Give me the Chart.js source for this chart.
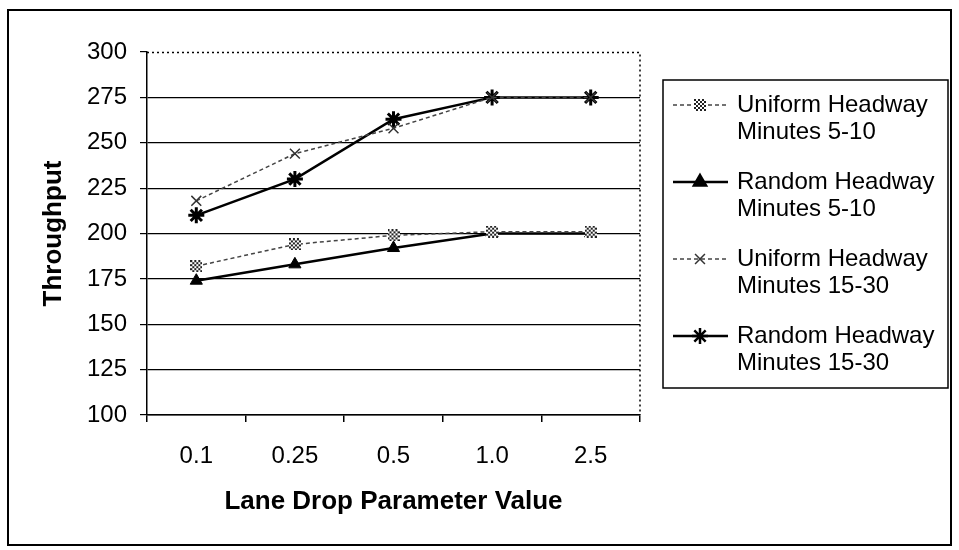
<!DOCTYPE html>
<html>
<head>
<meta charset="utf-8">
<script src="https://cdn.jsdelivr.net/npm/chart.js@4.4.1/dist/chart.umd.min.js"></script>
<style>
  html, body { margin: 0; padding: 0; background: #fff; }
  canvas { display: block; }
</style>
</head>
<body>
<canvas id="myChart" width="959" height="550"></canvas>
<script>
// data
const categories = ["0.1", "0.25", "0.5", "1.0", "2.5"];
const uniform5to10 = [182, 194, 199, 201, 201];
const random5to10 = [174, 183, 192, 200, 200];
const uniform15to30 = [218, 244, 258, 275, 275];
const random15to30 = [210, 230, 263, 275, 275];
const seriesNames = [
  ["Uniform Headway", "Minutes 5-10"],
  ["Random Headway", "Minutes 5-10"],
  ["Uniform Headway", "Minutes 15-30"],
  ["Random Headway", "Minutes 15-30"]
];
const yMin = 100, yMax = 300, yStep = 25;

const FONT = "'Liberation Sans', Arial, sans-serif";

/* checkered marker for the first series */
function checker() {
  const c = document.createElement("canvas");
  c.width = 12; c.height = 12;
  const g = c.getContext("2d");
  for (let i = 0; i < 6; i++) {
    for (let j = 0; j < 6; j++) {
      g.fillStyle = (i + j) % 2 ? "#fff" : "#222";
      g.fillRect(i * 2, j * 2, 2, 2);
    }
  }
  return c;
}
const checkerImg = checker();

/* outer frame, dotted plot border and the boxed legend */
const framePlugin = {
  id: "frame",
  beforeDraw(c) {
    const ctx = c.ctx;
    ctx.save();
    ctx.fillStyle = "#fff";
    ctx.fillRect(0, 0, c.width, c.height);
    ctx.restore();
  },
  afterDraw(c) {
    const ctx = c.ctx;
    const a = c.chartArea;
    ctx.save();
    // outer border
    ctx.strokeStyle = "#000";
    ctx.lineWidth = 2;
    ctx.strokeRect(8, 10, 943, 535);
    // dotted top & right of plot
    ctx.lineWidth = 1.5;
    ctx.setLineDash([2, 3]);
    ctx.beginPath();
    ctx.moveTo(a.left, a.top + 0.5);
    ctx.lineTo(a.right, a.top + 0.5);
    ctx.lineTo(a.right, a.bottom);
    ctx.stroke();
    ctx.setLineDash([]);

    // legend box
    const lx = 663, ly = 80, lw = 285, lh = 308;
    ctx.lineWidth = 1.5;
    ctx.strokeRect(lx, ly, lw, lh);
    ctx.font = "24px " + FONT;
    ctx.fillStyle = "#000";
    ctx.textBaseline = "middle";
    ctx.textAlign = "left";
    c.data.datasets.forEach((ds, i) => {
      const y = 105 + i * 77;
      ctx.strokeStyle = ds.borderColor;
      ctx.lineWidth = ds.borderWidth;
      ctx.setLineDash(ds.borderDash || []);
      ctx.beginPath();
      ctx.moveTo(673, y);
      ctx.lineTo(728, y);
      ctx.stroke();
      ctx.setLineDash([]);
      ctx.strokeStyle = ds.pointBorderColor;
      ctx.fillStyle = ds.pointBackgroundColor;
      Chart.helpers.drawPoint(ctx, {
        pointStyle: ds.pointStyle,
        radius: ds.pointRadius,
        rotation: 0,
        borderWidth: ds.pointBorderWidth
      }, 700, y);
      ctx.fillStyle = "#000";
      seriesNames[i].forEach((t, k) => ctx.fillText(t, 737, y + k * 27));
    });
    ctx.restore();
  }
};

const ctx = document.getElementById("myChart").getContext("2d");

new Chart(ctx, {
  type: "line",
  data: {
    labels: categories,
    datasets: [
      {
        label: seriesNames[0].join(" "),
        data: uniform5to10,
        borderColor: "#444",
        borderWidth: 1.5,
        borderDash: [4, 3],
        pointStyle: checkerImg,
        pointRadius: 6,
        pointBorderWidth: 1,
        pointBorderColor: "#222",
        pointBackgroundColor: "#222"
      },
      {
        label: seriesNames[1].join(" "),
        data: random5to10,
        borderColor: "#000",
        borderWidth: 2.5,
        pointStyle: "triangle",
        pointRadius: 7,
        pointBorderWidth: 1,
        pointBorderColor: "#000",
        pointBackgroundColor: "#000"
      },
      {
        label: seriesNames[2].join(" "),
        data: uniform15to30,
        borderColor: "#444",
        borderWidth: 1.5,
        borderDash: [4, 3],
        pointStyle: "crossRot",
        pointRadius: 7,
        pointBorderWidth: 1.5,
        pointBorderColor: "#333",
        pointBackgroundColor: "#333"
      },
      {
        label: seriesNames[3].join(" "),
        data: random15to30,
        borderColor: "#000",
        borderWidth: 2.5,
        pointStyle: "star",
        pointRadius: 8,
        pointBorderWidth: 3,
        pointBorderColor: "#000",
        pointBackgroundColor: "#000"
      }
    ]
  },
  options: {
    responsive: false,
    animation: false,
    devicePixelRatio: 1,
    layout: { padding: { left: 0, top: 52, right: 319, bottom: 25 } },
    plugins: {
      legend: { display: false },
      tooltip: { enabled: false }
    },
    scales: {
      x: {
        offset: true,
        grid: {
          offset: true,
          drawOnChartArea: false,
          tickLength: 7,
          tickColor: "#000",
          lineWidth: 1.5
        },
        border: { display: true, color: "#000", width: 1.5 },
        ticks: {
          color: "#000",
          font: { family: FONT, size: 24 },
          padding: 20
        },
        title: {
          display: true,
          text: "Lane Drop Parameter Value",
          color: "#000",
          font: { family: FONT, size: 26, weight: "bold" },
          padding: { top: 0, bottom: 8 }
        },
        afterFit(s) { s.height = 110; }
      },
      y: {
        min: yMin,
        max: yMax,
        grid: {
          color: c => (c.tick && c.tick.value === yMax ? "rgba(0,0,0,0)" : "#000"),
          tickColor: "#000",
          tickLength: 7,
          lineWidth: 1.2
        },
        border: { display: true, color: "#000", width: 1.5 },
        ticks: {
          stepSize: yStep,
          color: "#000",
          font: { family: FONT, size: 24 },
          padding: 13
        },
        title: {
          display: true,
          text: "Throughput",
          color: "#000",
          font: { family: FONT, size: 26, weight: "bold" },
          padding: { top: 38, bottom: 0 }
        },
        afterFit(s) { s.width = 147; }
      }
    }
  },
  plugins: [framePlugin]
});
</script>
</body>
</html>
